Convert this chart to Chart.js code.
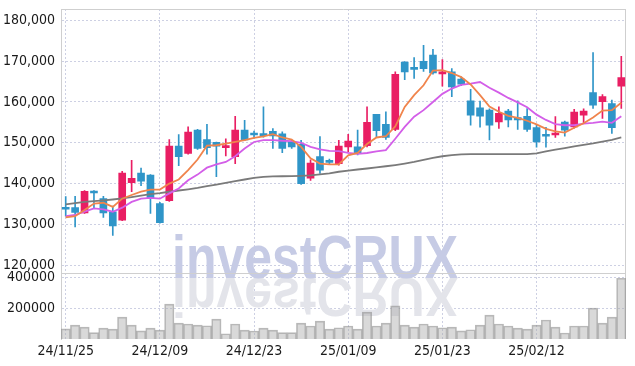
<!DOCTYPE html>
<html>
<head>
<meta charset="utf-8">
<script src="https://cdn.jsdelivr.net/npm/chart.js@4.4.1/dist/chart.umd.min.js"></script>
<style>
  html, body { margin: 0; padding: 0; background: #fff; }
  #wrap { width: 635px; height: 366px; }
</style>
</head>
<body>
<div id="wrap"><canvas id="chart" width="635" height="366"></canvas></div>
<script>
// Handelsdagar
const dates = [
  '24/11/25','24/11/26','24/11/27','24/11/28','24/11/29',
  '24/12/02','24/12/03','24/12/04','24/12/05','24/12/06',
  '24/12/09','24/12/10','24/12/11','24/12/12','24/12/13',
  '24/12/16','24/12/17','24/12/18','24/12/19','24/12/20',
  '24/12/23','24/12/24','24/12/26','24/12/27','24/12/30',
  '25/01/02','25/01/03','25/01/06','25/01/07','25/01/08',
  '25/01/09','25/01/10','25/01/13','25/01/14','25/01/15',
  '25/01/16','25/01/17','25/01/20','25/01/21','25/01/22',
  '25/01/23','25/01/24','25/01/31','25/02/03','25/02/04',
  '25/02/05','25/02/06','25/02/07','25/02/10','25/02/11',
  '25/02/12','25/02/13','25/02/14','25/02/17','25/02/18',
  '25/02/19','25/02/20','25/02/21','25/02/24','25/02/25'
];

const openP = [
  134100,134100,132800,138000,136300,133100,131000,140200,142600,142100,
  135100,135800,149200,147400,153100,150800,150100,148800,146600,153100,
  152300,152000,152800,152200,150200,149600,141300,146600,145400,144900,
  149000,149000,149300,157000,154500,153300,169800,168200,170000,171500,
  166900,167400,165600,160300,158600,158000,155100,157800,156200,156500,
  153700,151900,151900,155100,153900,156800,162300,160100,159600,163900
];
const highP = [
  136800,136900,138300,138300,136900,134500,143000,145700,143800,142200,
  135400,150800,152000,153900,153300,154500,150200,151000,156500,155500,
  152900,158800,153500,152700,150600,150600,145800,151500,146000,150600,
  152100,153100,158800,157000,157600,167400,169900,170900,173900,172900,
  170400,168200,166200,163100,160200,158300,158800,158200,160300,158400,
  154300,153800,156400,155300,158200,158300,172100,161800,160500,171200
];
const lowP = [
  132000,129400,132700,134100,131700,127300,130900,138000,139500,132700,
  130300,135600,144400,147200,148400,147200,141700,146800,144900,150500,
  151200,151400,148600,147600,148600,139800,140800,142500,144900,144500,
  147800,147000,149000,151500,150800,153000,165500,165800,167500,166800,
  163900,161300,164000,154300,153800,150700,153500,153900,153300,152800,
  148900,148900,151300,151600,153600,154700,158400,156000,152300,158400
];
const closeP = [
  133700,132900,138100,137700,132800,129600,142600,141300,140600,136400,
  130400,149200,146600,152600,148600,148800,149200,149200,153100,150700,
  151900,151750,151700,148600,149000,140000,145000,143300,145200,149200,
  150400,147400,155000,153000,151300,166800,167400,168000,168200,167100,
  167400,163700,164400,156800,156500,154300,157200,155600,155600,153300,
  150200,151600,152400,153100,157500,157800,159200,161300,153700,166000
];
const volume = [
  66000,90000,77000,41000,71000,64000,142000,90000,53000,71000,
  58000,226000,103000,97000,90000,86000,129000,34000,97000,58000,
  52000,71000,58000,41000,41000,103000,84000,116000,64000,73000,
  84000,64000,174000,84000,103000,215000,90000,77000,97000,84000,
  73000,77000,53000,60000,90000,155000,97000,84000,71000,64000,
  90000,123000,77000,39000,84000,84000,200000,103000,142000,394000
];

// Glidande medelvärden
const maShort = [
  131700,132000,133500,135100,135300,134300,136300,137200,138000,138500,
  138550,140000,141000,143300,145900,149300,149400,149800,150200,150650,
  151200,151600,152100,151300,150800,149000,146200,144900,144700,144700,
  146900,147500,149700,151300,151600,154000,158800,161700,164100,167700,
  167800,167100,166100,164300,161700,158900,157600,156600,156100,155400,
  154500,153400,152800,152500,153700,154800,156200,157900,158000,159800
];
const maMid = [
  132000,132300,133100,133900,133700,133100,134100,135500,136300,136500,
  136300,137600,138800,140800,142200,143900,144700,145300,146700,148600,
  150200,150650,150650,150500,150400,150000,149000,148400,148000,147950,
  147550,147300,147500,147900,148200,151000,153900,156400,158000,160000,
  162000,163300,164200,164500,164900,163500,162300,161000,159900,158700,
  156900,155600,154600,154300,154300,154700,154900,155200,154900,156500
];
const maLong = [
  134900,135200,135500,135700,135900,136100,136350,136700,137050,137400,
  137650,138000,138300,138600,138950,139400,139750,140150,140600,141000,
  141400,141650,141750,141800,141850,141900,142000,142250,142500,142900,
  143200,143450,143700,143950,144250,144550,144900,145300,145800,146300,
  146700,147000,147150,147200,147200,147200,147200,147200,147200,147200,
  147400,147900,148300,148700,149100,149500,149850,150300,150700,151300
];

const priceTicks = [120000, 130000, 140000, 150000, 160000, 170000, 180000];
const volumeTicks = [200000, 400000];

const UP = '#e91e63';
const DOWN = '#2f95c8';
const candleColors = closeP.map((c, i) => c >= openP[i] ? UP : DOWN);

const tickFont = { family: '"DejaVu Sans Condensed", sans-serif', size: 14 };
const gridColor = '#cdd0e3';

// Vattenstämpel med spegling
const watermark = {
  id: 'watermark',
  beforeDatasetsDraw(chart) {
    const ctx = chart.ctx;
    const text = 'investCRUX';
    const baseline = chart.scales.y.bottom + 5;
    const left = 172;
    ctx.save();
    ctx.font = 'bold 62px "Liberation Sans", sans-serif';
    const sx = 286 / ctx.measureText(text).width;
    ctx.textBaseline = 'alphabetic';
    ctx.fillStyle = '#e3e4ea';
    ctx.save();
    ctx.translate(left, baseline);
    ctx.scale(sx, -0.9);
    ctx.fillText(text, 0, 0);
    ctx.restore();
    ctx.fillStyle = '#c6cbe5';
    ctx.translate(left, baseline);
    ctx.scale(sx, 1);
    ctx.fillText(text, 0, 0);
    ctx.restore();
  }
};

const frame = {
  id: 'frame',
  beforeDatasetsDraw(chart) {
    const { ctx, chartArea: a, scales } = chart;
    ctx.save();
    ctx.strokeStyle = '#cfcfcf';
    ctx.lineWidth = 1;
    ctx.beginPath();
    ctx.moveTo(a.left, a.top + 0.5); ctx.lineTo(a.right, a.top + 0.5);
    ctx.moveTo(a.right - 0.5, a.top); ctx.lineTo(a.right - 0.5, a.bottom);
    const sep = Math.round(scales.y.bottom) + 0.5;
    ctx.moveTo(a.left, sep); ctx.lineTo(a.right, sep);
    ctx.stroke();
    ctx.restore();
  }
};

new Chart(document.getElementById('chart'), {
  type: 'bar',
  data: {
    labels: dates,
    datasets: [
      { type: 'line', data: maShort, yAxisID: 'y', borderColor: '#f0844c', borderWidth: 1.8, pointRadius: 0, order: 1 },
      { type: 'line', data: maMid, yAxisID: 'y', borderColor: '#d35ee8', borderWidth: 1.8, pointRadius: 0, order: 1 },
      { type: 'line', data: maLong, yAxisID: 'y', borderColor: '#7a7a7a', borderWidth: 1.8, pointRadius: 0, order: 1 },
      { data: openP.map((o, i) => [o, closeP[i]]), yAxisID: 'y', backgroundColor: candleColors,
        barThickness: 7, grouped: false, minBarLength: 2, order: 2 },
      { data: lowP.map((l, i) => [l, highP[i]]), yAxisID: 'y', backgroundColor: candleColors,
        barThickness: 1, grouped: false, order: 3 },
      { data: volume, yAxisID: 'yv', backgroundColor: 'rgba(170,170,170,0.45)', borderColor: 'rgba(140,140,140,0.6)',
        borderWidth: 1, barPercentage: 1, categoryPercentage: 1, grouped: false, order: 4 }
    ]
  },
  options: {
    responsive: false,
    animation: false,
    devicePixelRatio: 1,
    layout: { padding: { top: 9, right: 9, left: 0, bottom: 0 } },
    plugins: { legend: { display: false }, tooltip: { enabled: false } },
    scales: {
      x: {
        offset: true,
        grid: { color: gridColor, drawTicks: false, offset: false },
        border: { display: false, dash: [2, 2] },
        ticks: {
          autoSkip: false, maxRotation: 0, padding: 4, color: '#1a1a1a', font: tickFont,
          callback: (v, i) => i % 10 === 0 ? dates[i] : null
        },
        afterFit: s => { s.height = 27; }
      },
      y: {
        position: 'left', stack: 'pane', stackWeight: 263.5, weight: 1,
        min: 118200, max: 182800,
        grid: { color: gridColor, drawTicks: false },
        border: { display: true, color: '#cfcfcf', dash: [2, 2] },
        ticks: {
          padding: 6, color: '#1a1a1a', font: tickFont,
          callback: v => v.toLocaleString('en-US')
        },
        afterBuildTicks: s => { s.ticks = priceTicks.map(v => ({ value: v })); },
        afterFit: s => { s.width = 61; s.paddingTop = 0; }
      },
      yv: {
        position: 'left', stack: 'pane', stackWeight: 66.5, weight: 0,
        min: 0, max: 431000,
        grid: { color: gridColor, drawTicks: false },
        border: { display: true, color: '#cfcfcf', dash: [2, 2] },
        ticks: {
          padding: 6, color: '#1a1a1a', font: tickFont,
          callback: v => String(v)
        },
        afterBuildTicks: s => { s.ticks = volumeTicks.map(v => ({ value: v })); },
        afterFit: s => { s.width = 61; s.paddingTop = 0; s.paddingBottom = 0; }
      }
    }
  },
  plugins: [watermark, frame]
});
</script>
</body>
</html>
